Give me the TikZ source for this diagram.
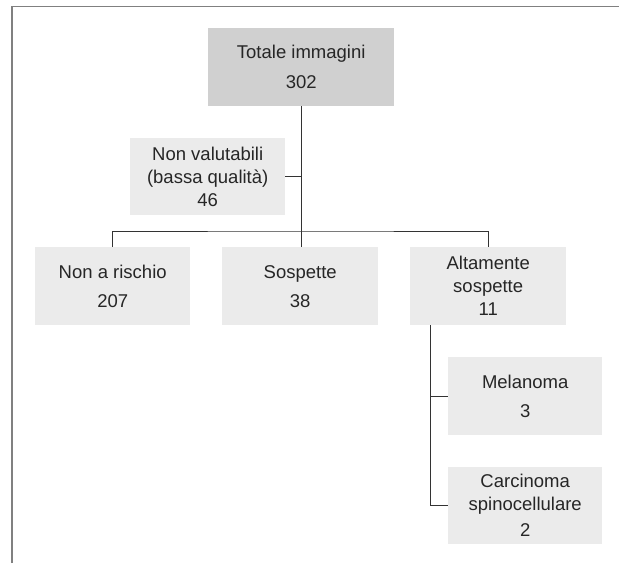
\documentclass[tikz,border=0pt]{standalone}
\usepackage{fontspec}
\setmainfont{Liberation Sans}
\begin{document}
\begin{tikzpicture}[x=1pt,y=-1pt,
  box/.style={anchor=north west, inner sep=0pt, align=center, text=black!85,
    font=\fontsize{18.5}{23}\selectfont, fill=boxgray},
  conn/.style={draw=black!80, line width=1pt},
  frame/.style={draw=black!50, line width=1.8pt}]
\definecolor{boxgray}{HTML}{EBEBEB}
\definecolor{topgray}{HTML}{D0D0D0}
\useasboundingbox (0,0) rectangle (619,563);
\draw[frame] (12,563) -- (12,6.5) -- (619,6.5);

\node[box, fill=topgray, minimum width=186pt, minimum height=78pt] (top) at (208,28) {Totale immagini\\[7pt]302};
\node[box, minimum width=155pt, minimum height=77pt] (nonval) at (130,138) {Non valutabili\\(bassa qualità)\\46};
\node[box, minimum width=155pt, minimum height=78pt] (nonrisk) at (35,247) {Non a rischio\\[6pt]207};
\node[box, minimum width=156pt, minimum height=78pt] (sosp) at (222,247) {Sospette\\[6pt]38};
\node[box, minimum width=156pt, minimum height=78pt] (alt) at (410,247) {Altamente\\sospette\\11};
\node[box, minimum width=154pt, minimum height=78pt] (mel) at (448,357) {Melanoma\\[6pt]3};
\node[box, minimum width=154pt, minimum height=77pt] (carc) at (448,467) {Carcinoma\\spinocellulare\\[3pt]2};

\coordinate (bus) at (301,231);
\coordinate (altleg) at (430,325);

\draw[conn] (top.south) -- (top.south |- sosp.north);
\draw[conn] (nonval.east) -- (nonval.east -| top.south);
\draw[conn] (nonrisk.north) |- (bus) -| (alt.north);
\draw[conn] (altleg) |- (carc.west);
\draw[conn] (altleg |- mel.west) -- (mel.west);
\end{tikzpicture}
\end{document}
